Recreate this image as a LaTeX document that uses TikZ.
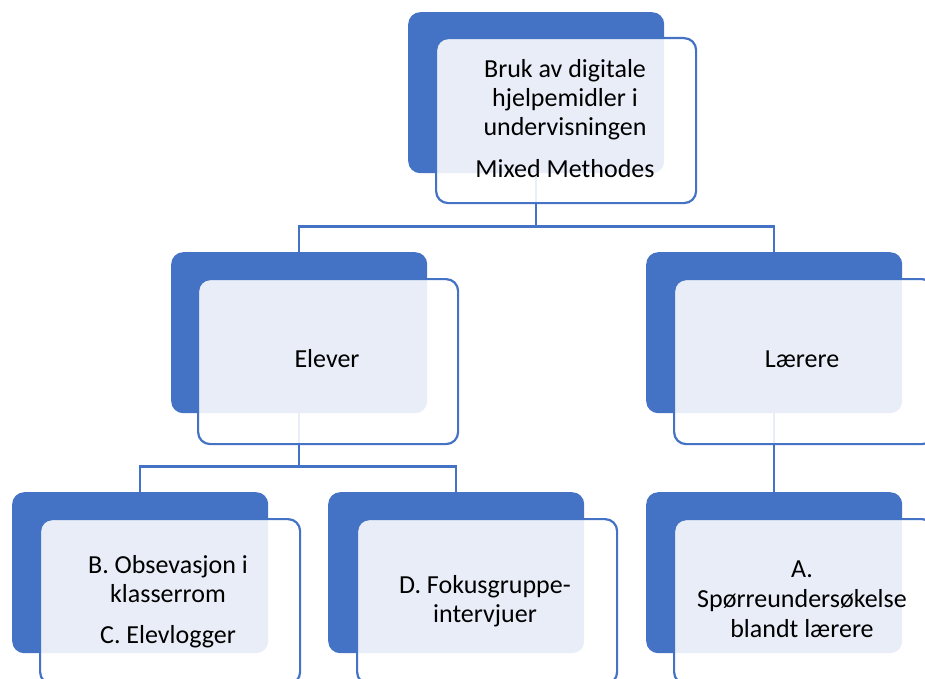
\documentclass[tikz,border=0pt]{standalone}
\usepackage{fontspec}
\setmainfont{Carlito}
\definecolor{accent}{HTML}{4472C4}
\begin{document}
\begin{tikzpicture}[x=1pt,y=-1pt,
  back/.style={fill=accent, rounded corners=12pt, minimum width=256pt, minimum height=161pt, inner sep=0pt, anchor=north west},
  front/.style={draw=accent, line width=2.2pt, fill=white, fill opacity=0.88, rounded corners=12pt, minimum width=260pt, minimum height=165pt, inner sep=0pt, anchor=north west},
  link/.style={draw=accent, line width=2.2pt},
  lbl/.style={anchor=base, inner sep=0pt, font=\fontsize{26}{30}\selectfont, text=black}]
\useasboundingbox (0,0) rectangle (925,679);
\clip (0,0) rectangle (925,679);
% back boxes
\node[back] (topb) at (408,12) {};
\node[back] (eleb) at (171,252) {};
\node[back] (larb) at (646,252) {};
\node[back] (bcb) at (12,492) {};
\node[back] (db) at (328,492) {};
\node[back] (ab) at (646,492) {};
% connectors
\draw[link] (topb.south) -- ++(0,53) -| (eleb.north);
\draw[link] (topb.south) -- ++(0,53) -| (larb.north);
\draw[link] (eleb.south) -- ++(0,53) -| (bcb.north);
\draw[link] (eleb.south) -- ++(0,53) -| (db.north);
\draw[link] (larb.south) -- (ab.north);
% front boxes
\node[front] (topf) at (435,37) {};
\node[front] (elef) at (197,278) {};
\node[front] (larf) at (673,278) {};
\node[front] (bcf) at (39,518) {};
\node[front] (df) at (356,518) {};
\node[front] (af) at (673,518) {};
% texts
\node[lbl] (t1) at (565,78) {Bruk av digitale};
\node[lbl] (t2) at (565,107) {hjelpemidler i};
\node[lbl] (t3) at (565,136) {undervisningen};
\node[lbl] (t4) at (565,177) {Mixed Methodes};
\node[lbl] (e1) at (327,367) {Elever};
\node[lbl] (l1) at (802,367) {Lærere};
\node[lbl] (b1) at (168,573) {B. Obsevasjon i};
\node[lbl] (b2) at (168,602) {klasserrom};
\node[lbl] (c1) at (168,643) {C. Elevlogger};
\node[lbl] (d1) at (485,593) {D. Fokusgruppe-};
\node[lbl] (d2) at (485,622) {intervjuer};
\node[lbl] (a1) at (802,577) {A.};
\node[lbl] (a2) at (802,607) {Spørreundersøkelse};
\node[lbl] (a3) at (802,637) {blandt lærere};
\end{tikzpicture}
\end{document}
